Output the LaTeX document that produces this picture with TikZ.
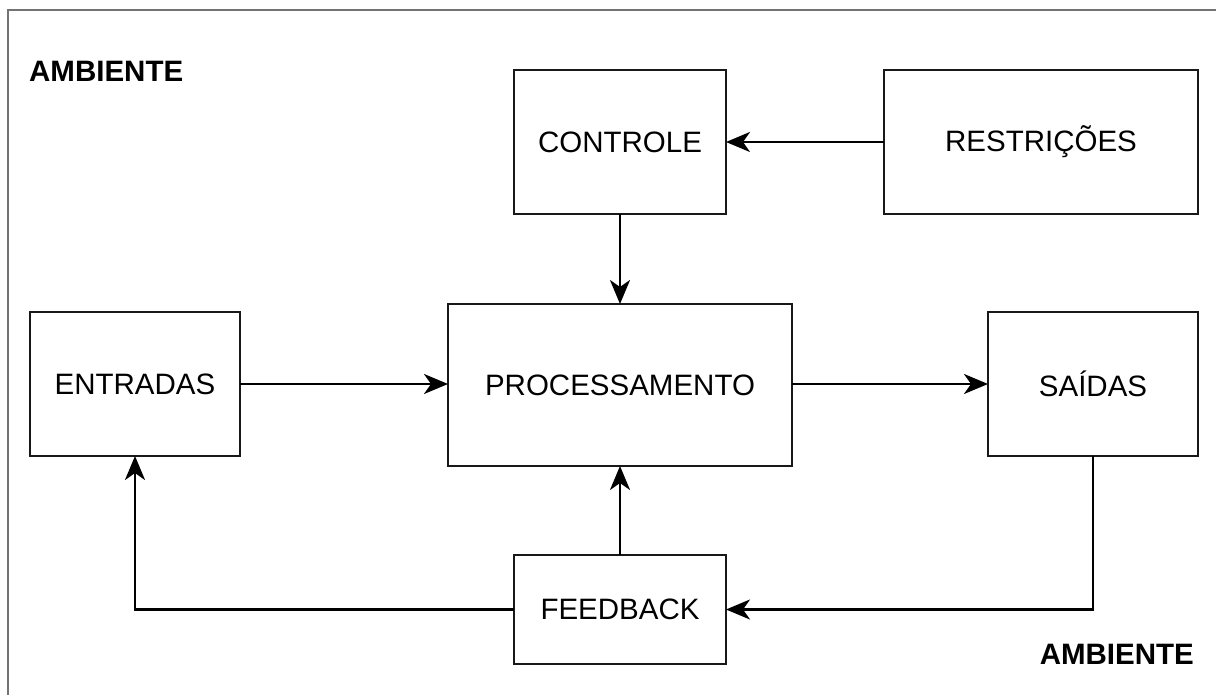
\documentclass[tikz,border=0pt]{standalone}
\usepackage{fontspec}
\setmainfont{Liberation Sans}
\usetikzlibrary{arrows.meta}
\begin{document}
\begin{tikzpicture}[x=1pt,y=-1pt,
  blk/.style={draw=black!90, line width=2pt, fill=white, inner sep=0pt, outer sep=0pt, font=\fontsize{29.5}{34}\selectfont},
  conn/.style={draw=black, line width=2.6pt, -{Stealth[length=24pt,width=20pt,inset=7pt]}},
  lbl/.style={font=\fontsize{29.5}{34}\selectfont\bfseries, inner sep=0pt}]
\useasboundingbox (0,0) rectangle (1216,695);
\draw[black!55, line width=2.2pt] (1216,10) -- (8,10) -- (8,700);
\node[lbl, anchor=west] (amb1) at (29,71) {AMBIENTE};
\node[lbl, anchor=east] (amb2) at (1194,654) {AMBIENTE};
\node[blk, minimum width=212pt, minimum height=144pt] (controle) at (620,142) {CONTROLE};
\node[blk, minimum width=314pt, minimum height=144pt] (restr) at (1041,142) {RESTRIÇÕES};
\node[blk, minimum width=210pt, minimum height=144pt] (entr) at (135,384) {ENTRADAS};
\node[blk, minimum width=344pt, minimum height=162pt] (proc) at (620,385) {PROCESSAMENTO};
\node[blk, minimum width=210pt, minimum height=144pt] (said) at (1093,384) {SAÍDAS};
\node[blk, minimum width=212pt, minimum height=109pt] (feed) at (620,609.5) {FEEDBACK};
\draw[conn] (restr.west) -- (controle.east);
\draw[conn] (controle.south) -- (proc.north);
\draw[conn] (entr.east) -- (entr.east -| proc.west);
\draw[conn] (proc.east |- said.west) -- (said.west);
\draw[conn] (said.south) |- (feed.east);
\draw[conn] (feed.west) -| (entr.south);
\draw[conn] (feed.north) -- (proc.south);
\end{tikzpicture}
\end{document}
